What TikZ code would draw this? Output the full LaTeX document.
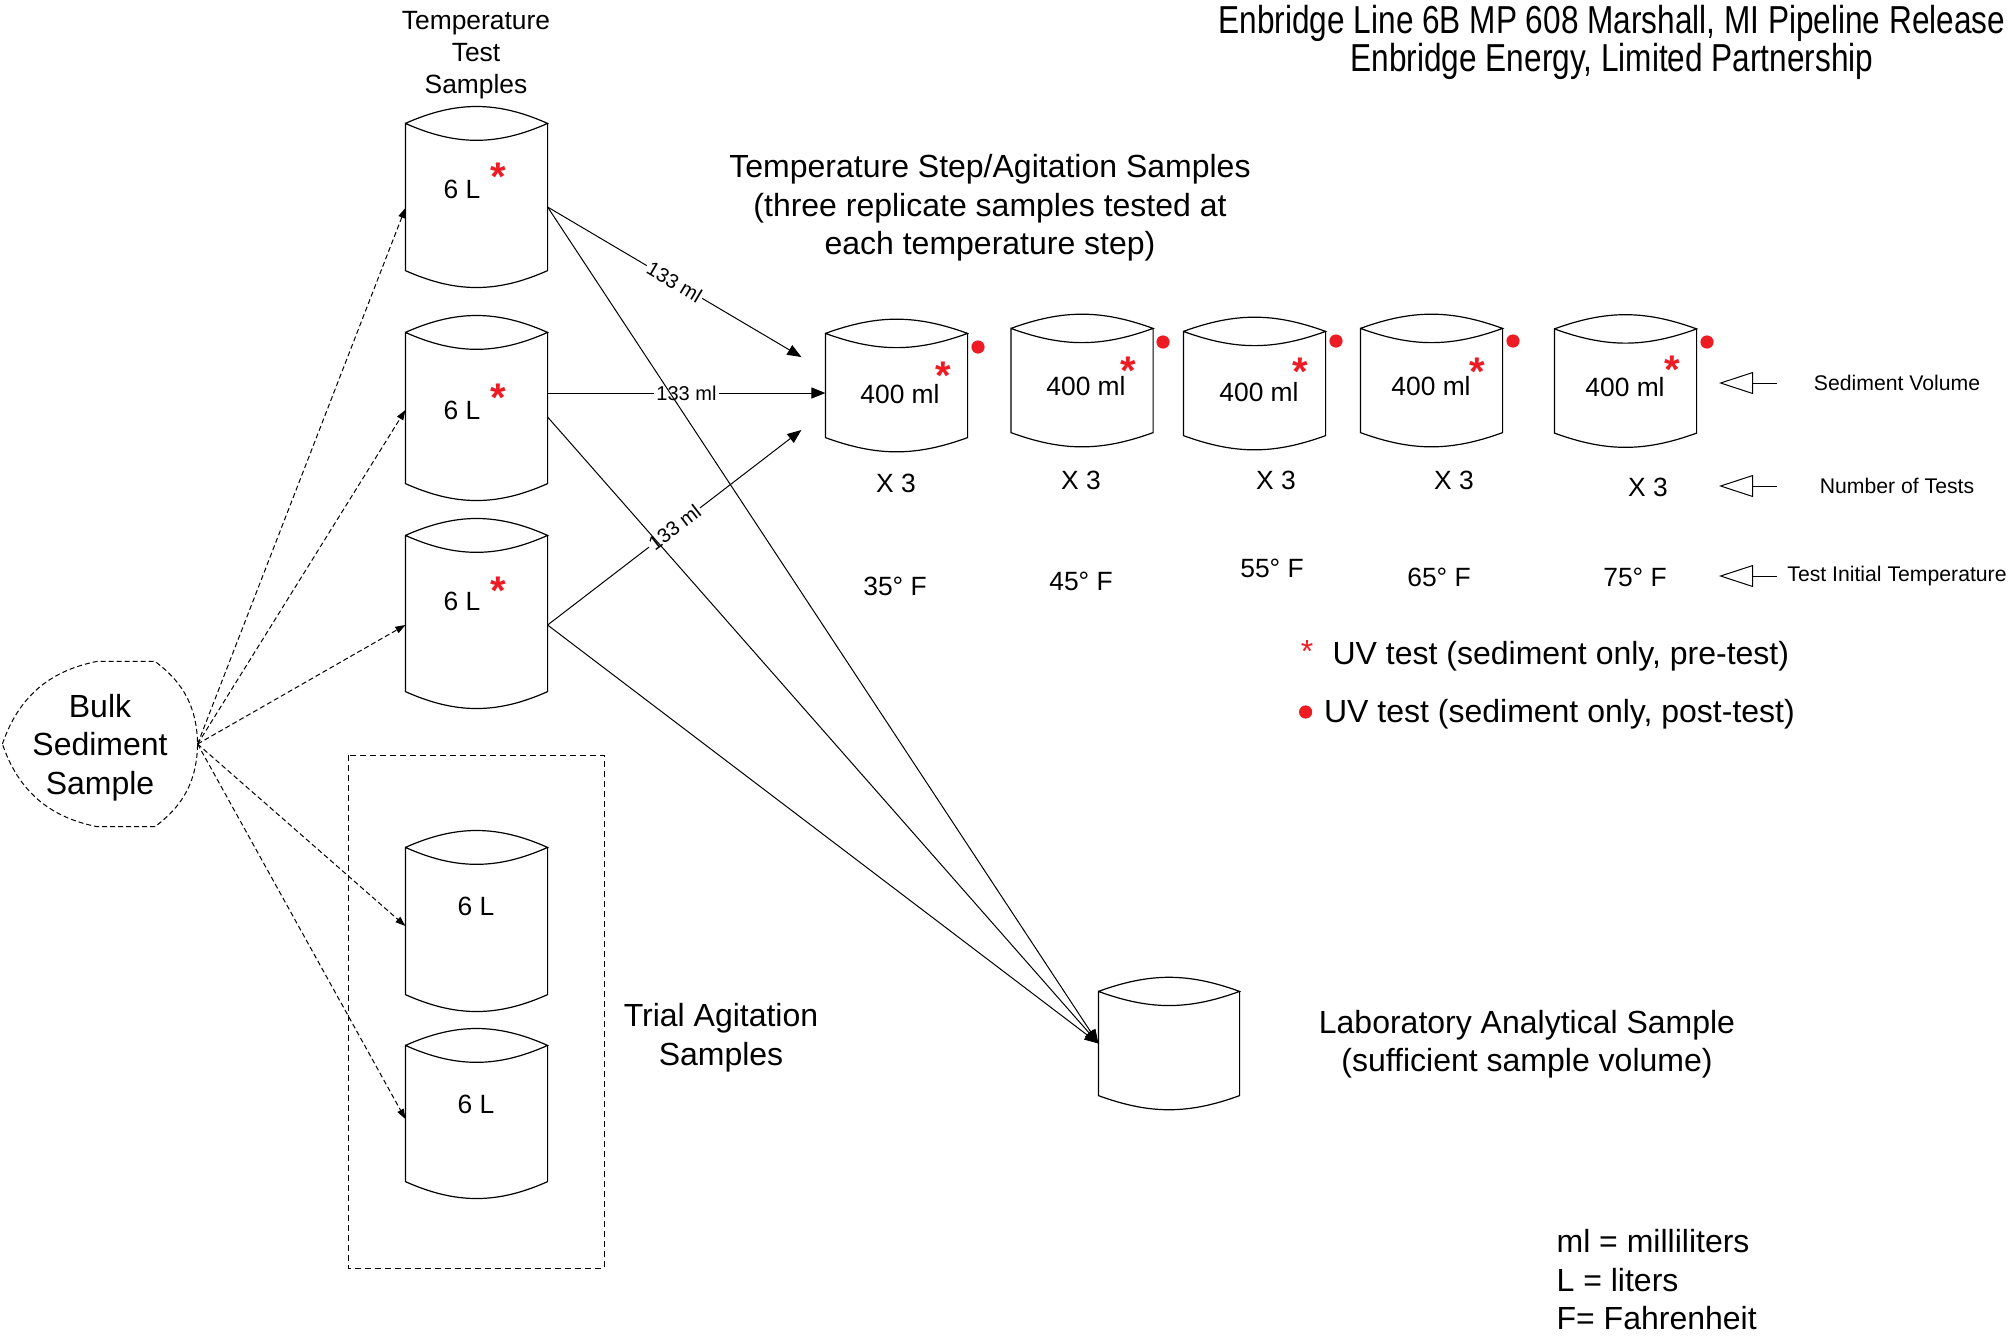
\documentclass[tikz,border=0pt]{standalone}
\usepackage{fontspec}
\setmainfont{Liberation Sans}
\newfontfamily\titlefont[FakeStretch=0.81]{Liberation Sans}
\usetikzlibrary{arrows.meta}

\definecolor{uvred}{HTML}{ED1C24}

\newcommand{\labfont}{\fontsize{16}{19.25}\selectfont}
\newcommand{\tankfont}{\fontsize{13.2}{16}\selectfont}
\newcommand{\keyfont}{\fontsize{10.6}{12.7}\selectfont}
\newcommand{\volfont}{\fontsize{10}{12}\selectfont}

% outline of a sample jar round an empty node
\newcommand{\tankshape}[2]{%
  \draw (#1.north west) to[bend left=#2] (#1.north east)
        to[bend left=#2] (#1.north west) -- (#1.south west)
        to[bend right=#2] (#1.south east) -- (#1.north east);}

\tikzset{
  tank/.style={inner sep=0pt, minimum width=70.5pt},
  tanktext/.style={font=\tankfont, inner sep=0pt},
  uvstar/.style={text=uvred, font=\bfseries\fontsize{20}{20}\selectfont, inner sep=0pt},
  uvdot/.style={circle, fill=uvred, inner sep=0pt, minimum size=6.6pt},
  feed/.style={dash pattern=on 2.5pt off 1.5pt, line width=0.5pt, -{Triangle[length=5pt,width=3.5pt]}},
  flow/.style={line width=0.5pt, -{Triangle[length=7pt,width=5.5pt]}},
  vol/.style={midway, sloped, fill=white, inner sep=1pt, font=\volfont},
  legarrow/.style={line width=0.5pt, -{Triangle[open,length=17pt,width=11pt]}}
}

\begin{document}
\begin{tikzpicture}[x=0.5pt, y=-0.5pt, line width=0.6pt]
\useasboundingbox (0,0) rectangle (2011,1335);

% headings
\node[align=center, font=\titlefont\fontsize{19.5}{19.25}\selectfont] (title) at (1612,42.5)
  {Enbridge Line 6B MP 608 Marshall, MI Pipeline Release\\Enbridge Energy, Limited Partnership};
\node[align=center, font=\fontsize{13.2}{16}\selectfont] (tthead) at (476,55.5) {Temperature\\Test\\Samples};
\node[align=center, font=\labfont] (stephead) at (990,208)
  {Temperature Step/Agitation Samples\\(three replicate samples tested at\\each temperature step)};

% bulk sample
\node[inner sep=0pt, minimum width=97pt, minimum height=82pt] (bulk) at (100,744) {};
\draw[dash pattern=on 2.5pt off 1.5pt, line width=0.5pt] (bulk.west) to[bend left=30] ([xshift=-1.5pt]bulk.north)
  -- ([xshift=27.5pt]bulk.north) to[bend left=26] (bulk.east) to[bend left=26] ([xshift=27.5pt]bulk.south)
  -- ([xshift=-1.5pt]bulk.south) to[bend left=30] (bulk.west);
\node[align=center, font=\labfont] (bulktxt) at (100,747.5) {Bulk\\Sediment\\Sample};

% 6 L jars
\foreach \n/\y/\h in {t1/197/73pt, t2/408/75pt, t3/613.5/77.5pt, t4/921/73pt, t5/1113.5/67.5pt} {
  \node[tank, minimum height=\h] (\n) at (476.5,\y) {};
  \tankshape{\n}{24}
}
\foreach \n/\x/\y in {t1/462/189, t2/462/410, t3/462/601.5, t4/476/906, t5/476/1104}
  \node[tanktext] (\n lbl) at (\x,\y) {6 L};
\draw[dash pattern=on 3pt off 2pt, line width=0.5pt] (348,755) rectangle (604,1268);
\node[align=center, font=\labfont] (trial) at (721,1037.5) {Trial Agitation\\Samples};

% 400 ml jars
\foreach \n/\x/\y in {a1/896.5/385.5, a2/1082/380.5, a3/1254.5/383.5, a4/1431.5/380.5, a5/1625.5/381} {
  \node[tank, minimum height=51.5pt] (\n) at (\x,\y) {};
  \tankshape{\n}{20}
}
\foreach \n/\x/\y in {a1/900/394, a2/1086/386, a3/1259/392, a4/1431/386, a5/1625/387}
  \node[tanktext] (\n lbl) at (\x,\y) {400 ml};
\foreach \n/\x/\y in {a1/896/483, a2/1081/480, a3/1276/480, a4/1454/480, a5/1648/487}
  \node[tanktext] (\n rep) at (\x,\y) {X 3};
\foreach \n/\x/\y/\t in {a1/895/586/35, a2/1081/581/45, a3/1272/568/55, a4/1439/577/65, a5/1635/577/75}
  \node[tanktext] (\n deg) at (\x,\y) {\t° F};

% UV marks
\foreach \n/\x/\y in {t1/498/177, t2/498/398, t3/498/591, a1/943/375.5, a2/1128/371, a3/1300/371.5, a4/1477/371.5, a5/1672/370}
  \node[uvstar] (\n star) at (\x,\y) {*};
\foreach \n/\x/\y in {a1/978/347, a2/1163/342, a3/1336/341, a4/1513/341, a5/1707/342}
  \node[uvdot] (\n dot) at (\x,\y) {};

% laboratory sample
\node[tank, minimum width=70pt, minimum height=51.5pt] (lab) at (1169,1043.5) {};
\tankshape{lab}{20}
\node[align=center, font=\labfont] (labtext) at (1527,1044) {Laboratory Analytical Sample\\(sufficient sample volume)};

% connectors
\foreach \n/\dy in {t1/-5.5pt, t2/-1pt, t3/-5.75pt, t4/-2.5pt, t5/-2.75pt}
  \draw[feed] (bulk.east) -- ([yshift=\dy]\n.west);
\coordinate (t1out) at ([yshift=-5pt]t1.east);
\coordinate (t2hi) at ([yshift=7.5pt]t2.east);
\coordinate (t2lo) at ([yshift=-4.5pt]t2.east);
\coordinate (t3out) at ([yshift=-5.75pt]t3.east);
\draw[flow] (t1out) -- node[vol] (v1) {133 ml} ([xshift=-12pt,yshift=14.25pt]a1.west);
\draw[flow] (t2hi) -- node[vol] (v2) {133 ml} ([yshift=-3.75pt]a1.west);
\draw[flow] (t3out) -- node[vol] (v3) {133 ml} ([xshift=-12pt,yshift=-22.25pt]a1.west);
\foreach \s in {t1out, t2lo, t3out}
  \draw[flow] (\s) -- (lab.west);

% key
\foreach \n/\y/\t in {vol/383/Sediment Volume, num/486/Number of Tests, temp/576/Test Initial Temperature} {
  \node[font=\keyfont, inner sep=0pt] (\n key) at (1897,\y) {\t};
  \coordinate (\n end) at (1777,\y);
  \draw[legarrow] (\n end) -- ++(-58,0);
}
\node[text=uvred, font=\fontsize{16}{16}\selectfont, inner sep=0pt] (keystar) at (1307,651) {*};
\node[anchor=west, font=\labfont, inner sep=0pt] (key1) at (1332,656.5) {UV test (sediment only, pre-test)};
\node[uvdot] (keydot) at (1305.6,712) {};
\node[anchor=west, font=\labfont, inner sep=0pt] (key2) at (1323.5,714.5) {UV test (sediment only, post-test)};

% units
\node[align=left, anchor=west, inner sep=0pt, font=\labfont] (units) at (1556,1280)
  {ml = milliliters\\L = liters\\F= Fahrenheit};
\end{tikzpicture}
\end{document}
